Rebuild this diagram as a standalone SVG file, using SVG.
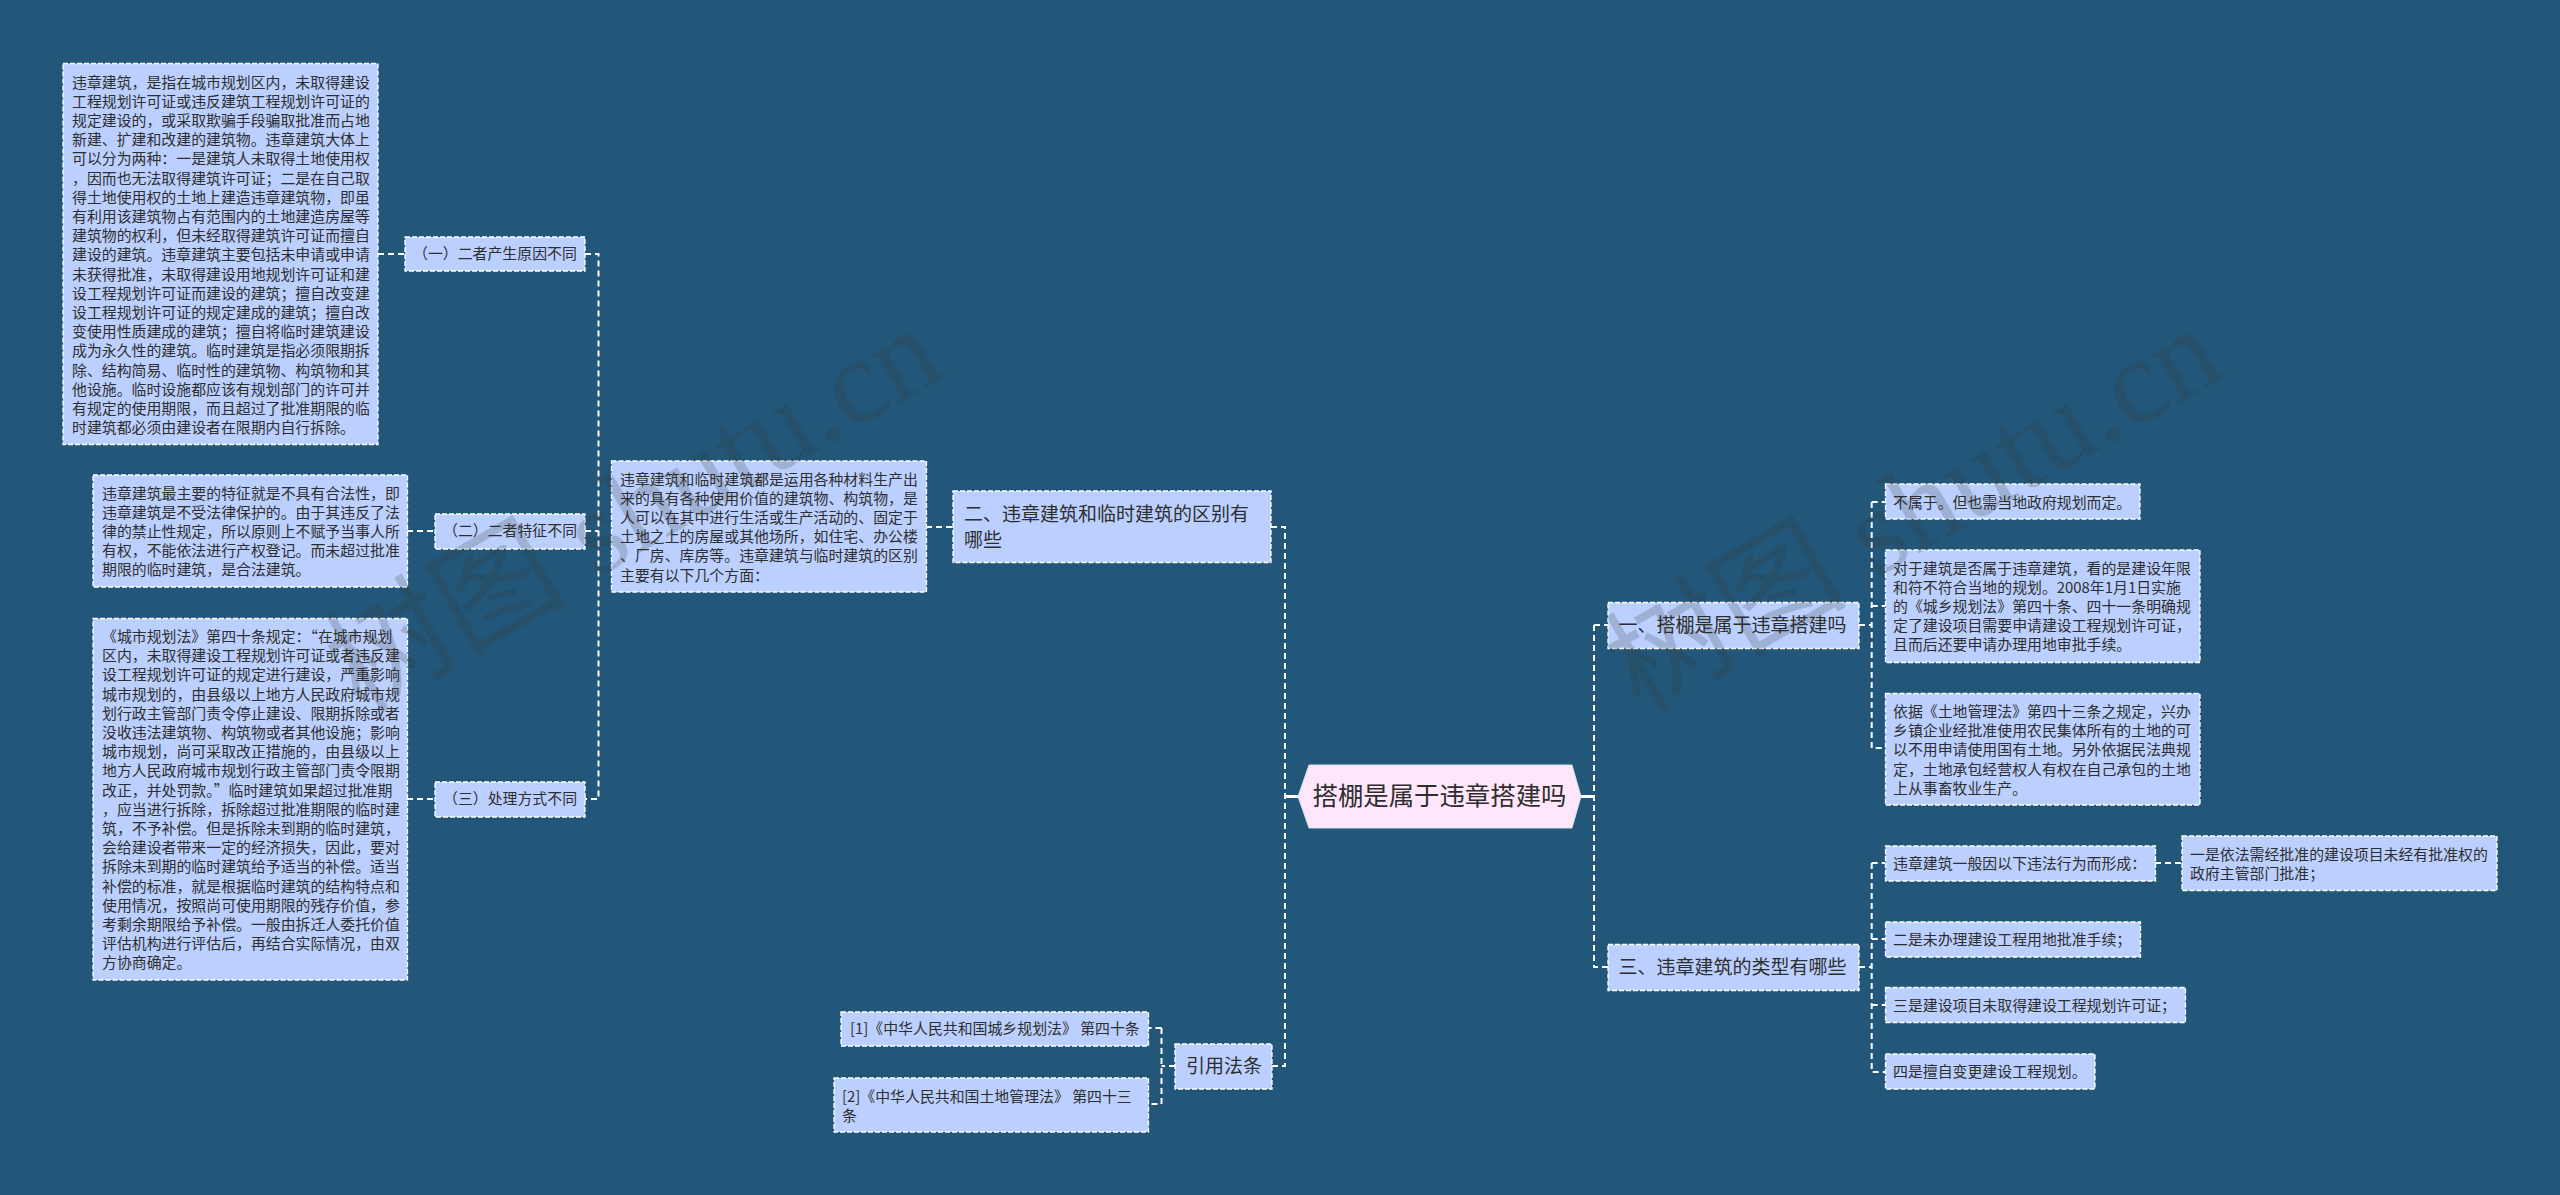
<svg xmlns="http://www.w3.org/2000/svg" width="2560" height="1195" viewBox="0 0 2560 1195">
<style>
text{font-family:"Noto Sans CJK SC","Liberation Sans",sans-serif;fill:#2e2e2e}
.b rect{fill:#bbd0fe;stroke:#fff;stroke-width:1.300;stroke-dasharray:5 2}
.s text{font-size:14.9px}
.m text{font-size:19px}
.c{fill:none;stroke:#fff;stroke-width:2;stroke-dasharray:6 4}
text.wm{font-family:"Liberation Serif","Noto Sans CJK SC",serif;font-size:121px;fill:#333;fill-opacity:.2;text-anchor:end}
</style>
<rect width="2560" height="1195" fill="#235779"/>
<g id="connectors">
<path class="c" d="M378 254H405M407 531H435M407 799H435M585 254H598.500V799H585M585 531H598.500"/>
<path class="c" d="M926 527H953M1271 527H1285V1066H1272M1161.500 1028H1148M1161.500 1028V1104H1148M1175 1066H1161.500"/>
<path class="c" d="M1594 625H1608M1594 625V967H1608M1859 625H1871.700M1871.700 502H1885M1871.700 502V748H1885M1871.700 606H1885"/>
<path class="c" d="M1859 967H1871.700M1871.700 863H1885M1871.700 863V1072H1885M1871.700 939H1885M1871.700 1005H1885M2155 863H2182"/>
<path d="M1285 796.500H1298M1581 796.500H1594" fill="none" stroke="#fff" stroke-width="3"/>
</g>
<g id="root"><path d="M1298 796.500L1309 765H1572L1581 796.500L1572 828H1309Z" fill="#ffe6fb" stroke="#cfe3ee" stroke-width="1"/><text x="1312.500" y="805" font-size="25.400">搭棚是属于违章搭建吗</text></g>
<g id="n-a" class="b s"><rect x="63" y="63.500" width="315" height="381"/>
<text x="72" y="87.500">违章建筑，是指在城市规划区内，未取得建设</text>
<text x="72" y="106.700">工程规划许可证或违反建筑工程规划许可证的</text>
<text x="72" y="125.900">规定建设的，或采取欺骗手段骗取批准而占地</text>
<text x="72" y="145.100">新建、扩建和改建的建筑物。违章建筑大体上</text>
<text x="72" y="164.300">可以分为两种：一是建筑人未取得土地使用权</text>
<text x="72" y="183.500">，因而也无法取得建筑许可证；二是在自己取</text>
<text x="72" y="202.700">得土地使用权的土地上建造违章建筑物，即虽</text>
<text x="72" y="221.900">有利用该建筑物占有范围内的土地建造房屋等</text>
<text x="72" y="241.100">建筑物的权利，但未经取得建筑许可证而擅自</text>
<text x="72" y="260.300">建设的建筑。违章建筑主要包括未申请或申请</text>
<text x="72" y="279.500">未获得批准，未取得建设用地规划许可证和建</text>
<text x="72" y="298.700">设工程规划许可证而建设的建筑；擅自改变建</text>
<text x="72" y="317.900">设工程规划许可证的规定建成的建筑；擅自改</text>
<text x="72" y="337.100">变使用性质建成的建筑；擅自将临时建筑建设</text>
<text x="72" y="356.300">成为永久性的建筑。临时建筑是指必须限期拆</text>
<text x="72" y="375.500">除、结构简易、临时性的建筑物、构筑物和其</text>
<text x="72" y="394.700">他设施。临时设施都应该有规划部门的许可并</text>
<text x="72" y="413.900">有规定的使用期限，而且超过了批准期限的临</text>
<text x="72" y="433.100">时建筑都必须由建设者在限期内自行拆除。</text>
</g>
<g id="n-1" class="b s"><rect x="405" y="237" width="180" height="34"/><text x="413" y="259">（一）二者产生原因不同</text></g>
<g id="n-b" class="b s"><rect x="93" y="475" width="314.500" height="112"/>
<text x="102" y="498.500">违章建筑最主要的特征就是不具有合法性，即</text>
<text x="102" y="517.700">违章建筑是不受法律保护的。由于其违反了法</text>
<text x="102" y="536.900">律的禁止性规定，所以原则上不赋予当事人所</text>
<text x="102" y="556.100">有权，不能依法进行产权登记。而未超过批准</text>
<text x="102" y="575.300">期限的临时建筑，是合法建筑。</text>
</g>
<g id="n-2" class="b s"><rect x="435" y="514" width="150" height="35"/><text x="443" y="536">（二）二者特征不同</text></g>
<g id="n-c" class="b s"><rect x="93" y="618.500" width="314.500" height="361.500"/>
<text x="102" y="642">《城市规划法》第四十条规定：“在城市规划</text>
<text x="102" y="661.200">区内，未取得建设工程规划许可证或者违反建</text>
<text x="102" y="680.400">设工程规划许可证的规定进行建设，严重影响</text>
<text x="102" y="699.600">城市规划的，由县级以上地方人民政府城市规</text>
<text x="102" y="718.800">划行政主管部门责令停止建设、限期拆除或者</text>
<text x="102" y="738">没收违法建筑物、构筑物或者其他设施；影响</text>
<text x="102" y="757.200">城市规划，尚可采取改正措施的，由县级以上</text>
<text x="102" y="776.400">地方人民政府城市规划行政主管部门责令限期</text>
<text x="102" y="795.600">改正，并处罚款。”临时建筑如果超过批准期</text>
<text x="102" y="814.800">，应当进行拆除，拆除超过批准期限的临时建</text>
<text x="102" y="834">筑，不予补偿。但是拆除未到期的临时建筑，</text>
<text x="102" y="853.200">会给建设者带来一定的经济损失，因此，要对</text>
<text x="102" y="872.400">拆除未到期的临时建筑给予适当的补偿。适当</text>
<text x="102" y="891.600">补偿的标准，就是根据临时建筑的结构特点和</text>
<text x="102" y="910.800">使用情况，按照尚可使用期限的残存价值，参</text>
<text x="102" y="930">考剩余期限给予补偿。一般由拆迁人委托价值</text>
<text x="102" y="949.200">评估机构进行评估后，再结合实际情况，由双</text>
<text x="102" y="968.400">方协商确定。</text>
</g>
<g id="n-3" class="b s"><rect x="435" y="782" width="150" height="35"/><text x="443" y="804">（三）处理方式不同</text></g>
<g id="n-d" class="b s"><rect x="611.500" y="461" width="315" height="131"/>
<text x="620" y="484.500">违章建筑和临时建筑都是运用各种材料生产出</text>
<text x="620" y="503.700">来的具有各种使用价值的建筑物、构筑物，是</text>
<text x="620" y="522.900">人可以在其中进行生活或生产活动的、固定于</text>
<text x="620" y="542.100">土地之上的房屋或其他场所，如住宅、办公楼</text>
<text x="620" y="561.300">、厂房、库房等。违章建筑与临时建筑的区别</text>
<text x="620" y="580.500">主要有以下几个方面：</text>
</g>
<g id="n-two" class="b m"><rect x="953" y="491" width="318" height="71.500"/><text x="964" y="520.500">二、违章建筑和临时建筑的区别有</text><text x="964" y="546.500">哪些</text></g>
<g id="n-one" class="b m"><rect x="1608" y="602.500" width="251" height="46"/><text x="1618.500" y="632">一、搭棚是属于违章搭建吗</text></g>
<g id="n-e" class="b s"><rect x="1885.500" y="484" width="254.500" height="35"/><text x="1893" y="507.500">不属于。但也需当地政府规划而定。</text></g>
<g id="n-f" class="b s"><rect x="1885.500" y="550" width="314.500" height="112.500"/>
<text x="1893" y="573.500">对于建筑是否属于违章建筑，看的是建设年限</text>
<text x="1893" y="592.700">和符不符合当地的规划。2008年1月1日实施</text>
<text x="1893" y="611.900">的《城乡规划法》第四十条、四十一条明确规</text>
<text x="1893" y="631.100">定了建设项目需要申请建设工程规划许可证，</text>
<text x="1893" y="650.300">且而后还要申请办理用地审批手续。</text>
</g>
<g id="n-g" class="b s"><rect x="1885.500" y="693.500" width="314.500" height="111.500"/>
<text x="1893" y="717">依据《土地管理法》第四十三条之规定，兴办</text>
<text x="1893" y="736.200">乡镇企业经批准使用农民集体所有的土地的可</text>
<text x="1893" y="755.400">以不用申请使用国有土地。另外依据民法典规</text>
<text x="1893" y="774.600">定，土地承包经营权人有权在自己承包的土地</text>
<text x="1893" y="793.800">上从事畜牧业生产。</text>
</g>
<g id="n-three" class="b m"><rect x="1608" y="944.500" width="251" height="46"/><text x="1618.500" y="974">三、违章建筑的类型有哪些</text></g>
<g id="n-h" class="b s"><rect x="1885.500" y="846" width="270" height="35"/><text x="1893" y="868.500">违章建筑一般因以下违法行为而形成：</text></g>
<g id="n-i" class="b s"><rect x="2182" y="836" width="315" height="54.500"/><text x="2190" y="859.500">一是依法需经批准的建设项目未经有批准权的</text><text x="2190" y="879">政府主管部门批准；</text></g>
<g id="n-j" class="b s"><rect x="1885.500" y="922" width="255" height="35"/><text x="1893" y="944.500">二是未办理建设工程用地批准手续；</text></g>
<g id="n-k" class="b s"><rect x="1885.500" y="987.500" width="300" height="35"/><text x="1893" y="1010.500">三是建设项目未取得建设工程规划许可证；</text></g>
<g id="n-l" class="b s"><rect x="1885.500" y="1054" width="209.500" height="35"/><text x="1893" y="1077">四是擅自变更建设工程规划。</text></g>
<g id="n-law" class="b m"><rect x="1175" y="1044" width="97" height="45"/><text x="1186" y="1073">引用法条</text></g>
<g id="n-m" class="b s"><rect x="841" y="1012" width="307.500" height="34"/><text x="850" y="1033.500">[1]《中华人民共和国城乡规划法》 第四十条</text></g>
<g id="n-n" class="b s"><rect x="834" y="1078" width="314.500" height="54"/><text x="842" y="1102">[2]《中华人民共和国土地管理法》 第四十三</text><text x="842" y="1121">条</text></g>
<text class="wm" transform="translate(948 375) rotate(-30)">树图 shutu.cn</text>
<text class="wm" transform="translate(2228 375) rotate(-30)">树图 shutu.cn</text>
</svg>
